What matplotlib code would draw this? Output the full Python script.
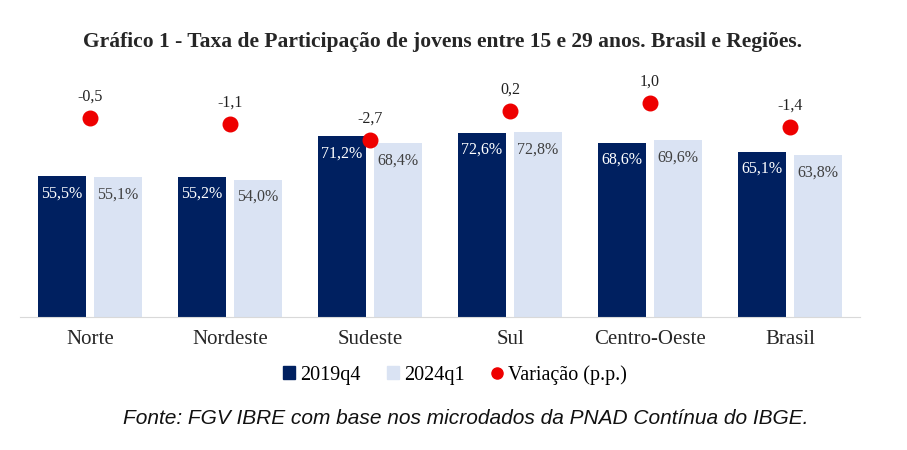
import numpy as np
import matplotlib.pyplot as plt
from matplotlib.lines import Line2D
from matplotlib.patches import Patch

regioes = ['Norte', 'Nordeste', 'Sudeste', 'Sul', 'Centro-Oeste', 'Brasil']
taxa_2019q4 = [55.5, 55.2, 71.2, 72.6, 68.6, 65.1]
taxa_2024q1 = [55.1, 54.0, 68.4, 72.8, 69.6, 63.8]
variacao = [-0.5, -1.1, -2.7, 0.2, 1.0, -1.4]

escuro = '#002060'
claro = '#DAE3F3'
serif = 'Liberation Serif'

fig = plt.figure(figsize=(9.07, 4.5), dpi=100)
ax = fig.add_axes([20 / 907, 1 - 317 / 450, 840 / 907, 254 / 450])
x = np.arange(len(regioes))
w = 0.34
b1 = ax.bar(x - 0.2, taxa_2019q4, w, color=escuro, zorder=2)
b2 = ax.bar(x + 0.2, taxa_2024q1, w, color=claro, zorder=2)
ax.set_ylim(0, 100)
ax.set_xlim(-0.5, len(regioes) - 0.5)

def fmt(v):
    return ('%.1f' % v).replace('.', ',')

for xi, v in zip(x, taxa_2019q4):
    ax.text(xi - 0.2, v - 6.8, fmt(v) + '%', ha='center', va='center',
            color='white', fontsize=11.5, family=serif, zorder=3)
for xi, v in zip(x, taxa_2024q1):
    ax.text(xi + 0.2, v - 6.8, fmt(v) + '%', ha='center', va='center',
            color='#404040', fontsize=11.5, family=serif, zorder=3)

ax2 = ax.twinx()
ax2.set_ylim(-20.4, 5)
ax2.scatter(x, variacao, s=110, color='#EE0000', zorder=4)
for xi, v in zip(x, variacao):
    ax2.text(xi, v + 2.1, fmt(v), ha='center', va='center', fontsize=11.5,
             family=serif, color='#222222')

for a in (ax, ax2):
    for s in ['top', 'right', 'left']:
        a.spines[s].set_visible(False)
    a.set_yticks([])
ax.spines['bottom'].set_color('#D9D9D9')
ax2.spines['bottom'].set_visible(False)
ax.set_xticks(x)
ax.set_xticklabels(regioes, fontsize=15, family=serif, color='#262626')
ax.tick_params(axis='x', length=0, pad=9)

handles = [Patch(color=escuro), Patch(color=claro),
           Line2D([], [], marker='o', ls='', color='#EE0000', markersize=8)]
fig.legend(handles, ['2019q4', '2024q1', 'Variação (p.p.)'], loc='center',
           bbox_to_anchor=(455 / 907, 1 - 375 / 450), ncol=3, frameon=False,
           prop={'family': serif, 'size': 14.5}, handlelength=0.6, handleheight=0.6,
           handletextpad=0.25, columnspacing=1.3)

fig.text(443 / 907, 1 - 42 / 450,
         'Gráfico 1 - Taxa de Participação de jovens entre 15 e 29 anos. Brasil e Regiões.',
         ha='center', va='center', fontsize=15.5, fontweight='bold', family=serif,
         color='#262626')
fig.text(466 / 907, 1 - 418 / 450,
         'Fonte: FGV IBRE com base nos microdados da PNAD Contínua do IBGE.',
         ha='center', va='center', fontsize=15, style='italic',
         family='Liberation Sans', color='#111111')

fig.savefig('out.png', dpi=100)
